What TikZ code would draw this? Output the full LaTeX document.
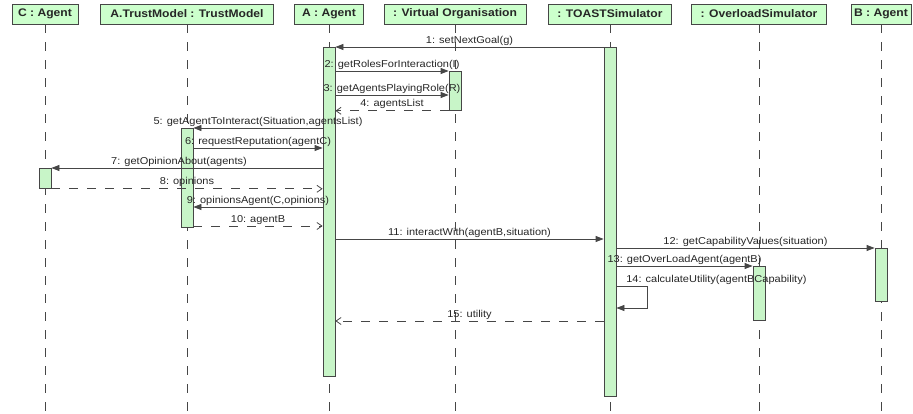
\documentclass[tikz,border=0pt]{standalone}
\usepackage{fontspec}
\setmainfont{Liberation Sans}[FakeStretch=1.1]
\usepackage{tikz}
\usetikzlibrary{arrows.meta, calc}
\definecolor{boxfill}{RGB}{204,255,204}
\definecolor{barfill}{RGB}{200,245,200}
\definecolor{wire}{RGB}{70,70,70}

\begin{document}
\begin{tikzpicture}[x=1pt, y=-1pt, line width=0.8pt,
  every node/.style={text=black!85},
  head/.style={draw=wire, fill=boxfill, minimum height=20pt, inner sep=0pt, font=\fontsize{11}{12}\selectfont\bfseries},
  bar/.style={draw=wire, fill=barfill, minimum width=12pt, inner sep=0pt, anchor=north},
  life/.style={wire, dash pattern=on 9pt off 9pt},
  call/.style={wire, -{Triangle[length=8pt,width=6pt]}},
  reply/.style={wire, dash pattern=on 9pt off 9pt, -{Straight Barb[length=5pt,width=7pt]}},
  lbl/.style={above, inner sep=1.5pt, font=\fontsize{10}{11}\selectfont}]

\useasboundingbox (0,0) rectangle (913,414);

\node (hC)[head, minimum width=66pt] at (45,14) {C : Agent};
\node (hM)[head, minimum width=173pt] at (187,14) {A.TrustModel : TrustModel};
\node (hA)[head, minimum width=69pt] at (329,14) {A : Agent};
\node (hV)[head, minimum width=142pt] at (455,14) {: Virtual Organisation};
\node (hT)[head, minimum width=123pt] at (610,14) {: TOASTSimulator};
\node (hO)[head, minimum width=135pt] at (759,14) {: OverloadSimulator};
\node (hB)[head, minimum width=60pt] at (881,14) {B : Agent};

\coordinate (bottom) at (0,414);
\foreach \h in {hC,hM,hA,hV,hT,hO,hB}
  \draw[life] (\h.south) -- (\h.south |- bottom);

\node (bA)[bar, minimum height=329pt] at (hA.south |- 0,47) {};
\node (bT)[bar, minimum height=349pt] at (hT.south |- 0,47) {};
\node (bV)[bar, minimum height=39pt] at (hV.south |- 0,71) {};
\node (bM)[bar, minimum height=99pt] at (hM.south |- 0,128) {};
\node (bC)[bar, minimum height=20pt] at (hC.south |- 0,168) {};
\node (bB)[bar, minimum height=53pt] at (hB.south |- 0,248) {};
\node (bO)[bar, minimum height=54pt] at (hO.south |- 0,266) {};

\coordinate (m3) at (0,95);
\coordinate (m6) at (0,148);
\coordinate (m9) at (0,207);
\coordinate (m10) at (0,226);
\coordinate (m11) at (0,239);
\coordinate (m14) at (0,286);
\coordinate (m14b) at (0,308);
\coordinate (m15) at (0,321);

\draw[call] (bT.north west) -- node[lbl]{1: setNextGoal(g)} (bA.north east);
\draw[call] (bA.east |- bV.north) -- node[lbl]{2: getRolesForInteraction(I)} (bV.north west);
\draw[call] (bA.east |- m3) -- node[lbl]{3: getAgentsPlayingRole(R)} (bV.west |- m3);
\draw[reply] (bV.south west) -- node[lbl]{4: agentsList} (bA.east |- bV.south);
\draw[call] (bA.west |- bM.north) -- node[lbl]{5: getAgentToInteract(Situation,agentsList)} (bM.north east);
\draw[call] (bM.east |- m6) -- node[lbl]{6: requestReputation(agentC)} (bA.west |- m6);
\draw[call] (bA.west |- bC.north) -- node[lbl, xshift=-8pt]{7: getOpinionAbout(agents)} (bC.north east);
\draw[reply] (bC.south east) -- node[lbl]{8: opinions} (bA.west |- bC.south);
\draw[call] (bA.west |- m9) -- node[lbl]{9: opinionsAgent(C,opinions)} (bM.east |- m9);
\draw[reply] (bM.east |- m10) -- node[lbl]{10: agentB} (bA.west |- m10);
\draw[call] (bA.east |- m11) -- node[lbl]{11: interactWith(agentB,situation)} (bT.west |- m11);
\draw[call] (bT.east |- bB.north) -- node[lbl]{12: getCapabilityValues(situation)} (bB.north west);
\draw[call] (bT.east |- bO.north) -- node[lbl]{13: getOverLoadAgent(agentB)} (bO.north west);
\draw[call] (bT.east |- m14) -- ++(31,0) |- (bT.east |- m14b);
\node[lbl, anchor=south west] at ($(bT.east |- m14)+(8,0)$) {14: calculateUtility(agentBCapability)};
\draw[reply] (bT.west |- m15) -- node[lbl]{15: utility} (bA.east |- m15);
\end{tikzpicture}
\end{document}
